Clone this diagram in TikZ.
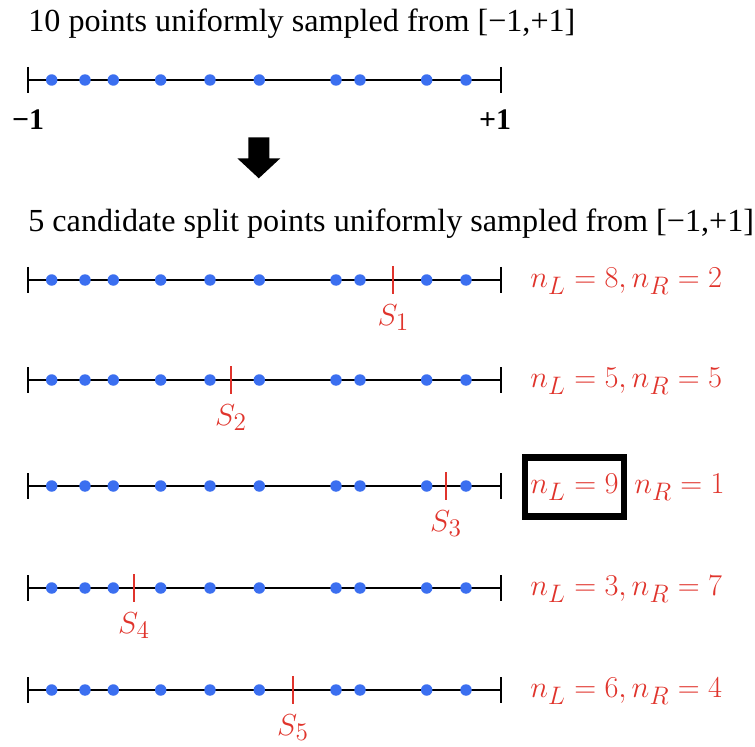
\documentclass[tikz,border=0pt]{standalone}
\usepackage{fontspec}
\setmainfont{Liberation Serif}
\usetikzlibrary{fit}

\definecolor{ptblue}{RGB}{59,111,240}
\definecolor{splitred}{RGB}{224,52,44}

\tikzset{
	axisline/.style={line width=1.5pt},
	sample/.style={circle, fill=ptblue, inner sep=0pt, minimum size=0.23cm},
	splitmark/.style={draw=splitred, line width=1.1pt},
	countlabel/.style={text=splitred, anchor=base west, inner sep=0pt, font=\fontsize{19}{23}\selectfont},
	endlabel/.style={anchor=north, inner sep=0pt, font=\fontsize{17}{20}\selectfont\bfseries},
	boxframe/.style={draw, line width=3.7pt}
}

\def\pts{51.7,85,113.3,160.7,210,259.3,336,360,426.7,466}

\begin{document}
\begin{tikzpicture}[x=0.02cm, y=-0.02cm, font=\fontsize{18.3}{22}\selectfont]
	\useasboundingbox (0,0) rectangle (755,747);
	\node [anchor=base west, inner sep=0pt] (title1) at (28,31.5) {10 points uniformly sampled from [−1,+1]};
	\coordinate (a0) at (28,80);
	\coordinate (b0) at (501,80);
	\draw [axisline] (a0) -- (b0);
	\draw [axisline] ([yshift=7.4pt]a0) -- ([yshift=-7.4pt]a0);
	\draw [axisline] ([yshift=7.4pt]b0) -- ([yshift=-7.4pt]b0);
	\foreach \p [count=\k] in \pts
		\node [sample] (p0-\k) at (\p,80) {};
	\node [endlabel] (lo) at (28,109) {−1};
	\node [endlabel] (hi) at (495,109) {+1};
	\fill (248.3,137.3) -- (269.3,137.3) -- (269.3,158.3) -- (280.3,158.3) -- (258.8,178.3) -- (237.3,158.3) -- (248.3,158.3) -- cycle;
	\node [anchor=base west, inner sep=0pt] (title2) at (28,231) {5 candidate split points uniformly sampled from [−1,+1]};
	\foreach \r/\yy/\sx in {1/280/393.3, 2/380/231, 3/486/446, 4/588/134, 5/690/293} {
		\coordinate (a\r) at (28,\yy);
		\coordinate (b\r) at (501,\yy);
		\draw [axisline] (a\r) -- (b\r);
		\draw [axisline] ([yshift=7.4pt]a\r) -- ([yshift=-7.4pt]a\r);
		\draw [axisline] ([yshift=7.4pt]b\r) -- ([yshift=-7.4pt]b\r);
		\foreach \p [count=\k] in \pts
			\node [sample] (p\r-\k) at (\p,\yy) {};
		\coordinate (s\r) at (\sx,\yy);
		\draw [splitmark] ([yshift=7.9pt]s\r) -- ([yshift=-7.9pt]s\r);
		\node [text=splitred, anchor=base, inner sep=0pt, font=\fontsize{19}{23}\selectfont] (sl\r) at (\sx,\yy+45) {$S_\r$};
	}
	\node [countlabel] (cnt1) at (530,287.5) {$n_L=8, n_R=2$};
	\node [countlabel] (cnt2) at (530,387.5) {$n_L=5, n_R=5$};
	\node [countlabel] (cnt3) at (530,493.5) {$n_L=9$};
	\node [countlabel] (cnt3r) at (634,493.5) {$n_R=1$};
	\node [countlabel] (cnt4) at (530,595.5) {$n_L=3, n_R=7$};
	\node [countlabel] (cnt5) at (530,697.5) {$n_L=6, n_R=4$};
	\node [boxframe, fit=(cnt3), inner xsep=0.1cm, inner ysep=0.32cm] (best) {};
\end{tikzpicture}
\end{document}
